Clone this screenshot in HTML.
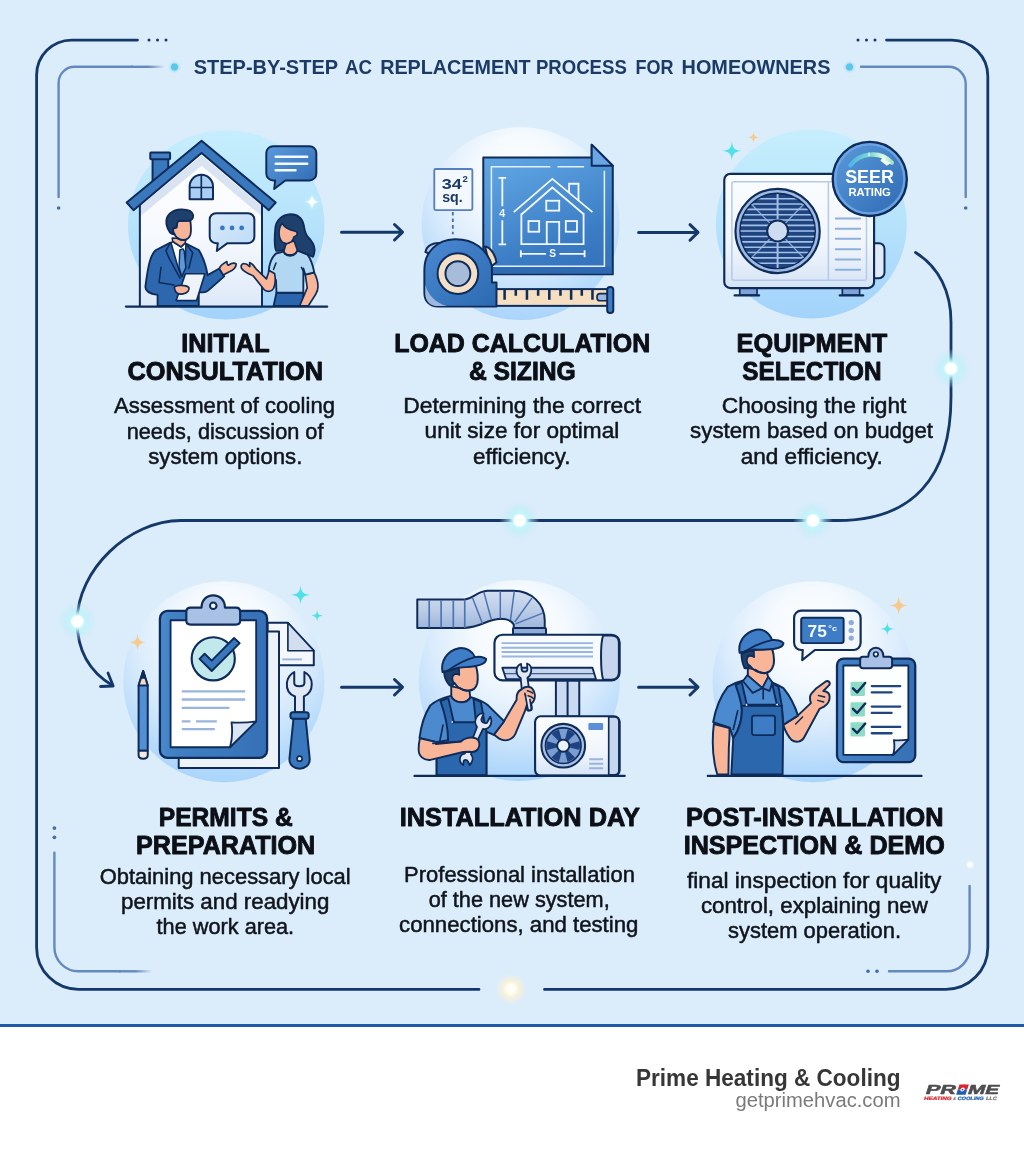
<!DOCTYPE html>
<html lang="en">
<head>
<meta charset="utf-8">
<title>Step-by-Step AC Replacement Process for Homeowners</title>
<style>
html,body{margin:0;padding:0;background:#ffffff;}
body{width:1024px;height:1154px;overflow:hidden;font-family:"Liberation Sans",Arial,sans-serif;}
svg{display:block;position:absolute;left:0;top:0;}
.h{font-family:"Liberation Sans",Arial,sans-serif;font-weight:700;font-size:26px;fill:#0c0f16;stroke:#0c0f16;stroke-width:0.9px;stroke-linejoin:round;}
.b{font-family:"Liberation Sans",Arial,sans-serif;font-weight:400;font-size:22px;fill:#10141c;stroke:#10141c;stroke-width:0.5px;stroke-linejoin:round;}
.t{font-family:"Liberation Sans",Arial,sans-serif;font-weight:700;font-size:21px;fill:#1b3a66;}
.nv{stroke:#15386a;fill:none;stroke-width:2.8;stroke-linecap:round;stroke-linejoin:round;}
.o{stroke:#14366b;stroke-width:1.8;stroke-linejoin:round;stroke-linecap:round;}
</style>
</head>
<body>
<svg style="will-change:transform" width="1024" height="1154" viewBox="0 0 1024 1154">
<defs>
<radialGradient id="glow" cx="50%" cy="50%" r="50%">
<stop offset="0" stop-color="#ffffff" stop-opacity="1"/>
<stop offset="0.26" stop-color="#ffffff" stop-opacity="1"/>
<stop offset="0.36" stop-color="#c4f6fc" stop-opacity="0.95"/>
<stop offset="0.6" stop-color="#b8f0fa" stop-opacity="0.5"/>
<stop offset="1" stop-color="#c4eefa" stop-opacity="0"/>
</radialGradient>
<radialGradient id="glowW" cx="50%" cy="50%" r="50%">
<stop offset="0" stop-color="#ffffff" stop-opacity="1"/>
<stop offset="0.3" stop-color="#fffdf0" stop-opacity="1"/>
<stop offset="0.5" stop-color="#fdf3d0" stop-opacity="0.8"/>
<stop offset="1" stop-color="#f6f1e0" stop-opacity="0"/>
</radialGradient>
<radialGradient id="glowP" cx="50%" cy="50%" r="50%"><stop offset="0" stop-color="#ffffff"/><stop offset="0.4" stop-color="#ffffff" stop-opacity="0.95"/><stop offset="1" stop-color="#ffffff" stop-opacity="0"/></radialGradient>
<radialGradient id="glowC" cx="50%" cy="50%" r="50%">
<stop offset="0" stop-color="#5cc6ec" stop-opacity="1"/>
<stop offset="0.45" stop-color="#5cc6ec" stop-opacity="1"/>
<stop offset="0.6" stop-color="#a5e0f5" stop-opacity="0.6"/>
<stop offset="1" stop-color="#c5ecfa" stop-opacity="0"/>
</radialGradient>
<linearGradient id="fadeR" x1="0" x2="1" y1="0" y2="0">
<stop offset="0" stop-color="#6389bd"/><stop offset="0.5" stop-color="#6389bd"/><stop offset="1" stop-color="#6389bd" stop-opacity="0"/>
</linearGradient>
<linearGradient id="circA" x1="0" x2="0" y1="0" y2="1">
<stop offset="0" stop-color="#c6eefd"/><stop offset="0.5" stop-color="#b6e2fb"/><stop offset="1" stop-color="#a3d3fb"/>
</linearGradient>
<radialGradient id="circB" cx="0.5" cy="0.3" r="0.74" fx="0.5" fy="0.25">
<stop offset="0" stop-color="#ffffff"/><stop offset="0.3" stop-color="#f5fafe"/><stop offset="0.6" stop-color="#d9ebfc"/><stop offset="0.85" stop-color="#b5dafb"/><stop offset="1" stop-color="#a4d2fb"/>
</radialGradient>
<linearGradient id="blueG" x1="0" x2="1" y1="0" y2="1">
<stop offset="0" stop-color="#5a9bdc"/><stop offset="1" stop-color="#2f69b2"/>
</linearGradient>
</defs>
<rect x="0" y="0" width="1024" height="1154" fill="#ffffff"/>
<rect x="0" y="0" width="1024" height="1025" fill="#dbecfa"/>
<rect x="0" y="1024" width="1024" height="3" fill="#2259a6"/>
<!-- frame -->
<g id="frame">
<path class="nv" d="M137.5,40.1 H71.6 A35,35 0 0 0 36.6,75.1 V947.4 A42,42 0 0 0 78.6,989.4 H479"/>
<path class="nv" d="M886.5,40.1 H951.8 A36,36 0 0 1 987.8,76.1 V947.4 A42,42 0 0 1 945.8,989.4 H544.5"/>
<g fill="#15386a"><circle cx="149" cy="40" r="1.5"/><circle cx="157.5" cy="40" r="1.5"/><circle cx="166" cy="40" r="1.5"/>
<circle cx="858" cy="40" r="1.5"/><circle cx="866.5" cy="40" r="1.5"/><circle cx="875" cy="40" r="1.5"/></g>
<g fill="none" stroke="#6389bd" stroke-width="2.4" stroke-linecap="round">
<path d="M58.6,197 V82.8 A16,16 0 0 1 74.6,66.8 H132"/>
<path d="M861,66.8 H948.7 A17,17 0 0 1 965.7,83.8 V197"/>
<path d="M54.4,852.6 V947.3 A24,24 0 0 0 78.4,971.3 H120"/>
<path d="M969.6,886 V948.3 A23,23 0 0 1 946.6,971.3 H889"/>
</g>
<rect x="131" y="65.6" width="34" height="2.4" fill="url(#fadeR)"/>
<rect x="119" y="970.1" width="33" height="2.4" fill="url(#fadeR)"/>
<g fill="#4470a8"><circle cx="58.6" cy="208" r="1.8"/><circle cx="965.7" cy="208" r="1.8"/>
<circle cx="54.4" cy="828.1" r="1.9"/><circle cx="54.4" cy="837.3" r="1.9"/>
<circle cx="868" cy="971.3" r="1.8"/><circle cx="877" cy="971.3" r="1.8"/></g>
<circle cx="174.5" cy="67" r="7" fill="url(#glowC)"/>
<circle cx="849.5" cy="67" r="7" fill="url(#glowC)"/>
<circle cx="970" cy="864.6" r="4.5" fill="url(#glowP)"/>
<!-- connector -->
<path class="nv" d="M915.5,252.5 C939,267 951,292 951,322 V397 C951,478 912,520.5 838,520.5 H181 C129,520.5 77.2,570 77.2,621 C77,650 90,672 112.5,685.5"/>
<path class="nv" d="M108,673 L113.2,686 L100.5,686.5"/>
<!-- arrows -->
<g class="nv" style="stroke-width:3">
<path d="M341.5,232.2 H402 M394.5,224.5 L402.5,232.2 L394.5,240"/>
<path d="M638.6,232.4 H697.5 M690,224.7 L698,232.4 L690,240.2"/>
<path d="M341.5,687.2 H402 M394.5,679.5 L402.5,687.2 L394.5,695"/>
<path d="M638.6,687.2 H697.5 M690,679.5 L698,687.2 L690,695"/>
</g>
<circle cx="951" cy="368.5" r="20" fill="url(#glow)"/>
<circle cx="813" cy="520.5" r="20" fill="url(#glow)"/>
<circle cx="519.6" cy="520.5" r="20" fill="url(#glow)"/>
<circle cx="77.3" cy="621.4" r="20" fill="url(#glow)"/>
<circle cx="511" cy="989" r="16" fill="url(#glowW)"/>
</g>
<!-- illustration 1: initial consultation -->
<g id="ill1" transform="translate(100,120) scale(0.25391)">
<defs><linearGradient id="bubG" x1="0" x2="1" y1="0" y2="1"><stop offset="0" stop-color="#d8eafb"/><stop offset="1" stop-color="#bcdaf7"/></linearGradient><linearGradient id="houseG" x1="0" x2="0" y1="0" y2="1"><stop offset="0" stop-color="#ffffff"/><stop offset="0.55" stop-color="#f6f9fe"/><stop offset="1" stop-color="#dde9f8"/></linearGradient></defs>
<ellipse cx="497" cy="413" rx="387" ry="373" fill="url(#circA)"/>
<!-- chimney -->
<rect x="207" y="150" width="62" height="95" fill="#3a78be" stroke="#0e2b59" stroke-width="7.8"/>
<rect x="198" y="128" width="78" height="27" rx="3" fill="#4480c6" stroke="#0e2b59" stroke-width="7.8"/>
<!-- house body -->
<path d="M157,735 V320 L400,125 L638,320 V735 Z" fill="url(#houseG)"/>
<path d="M157,340 L400,140 L638,340 V380 L400,180 L157,380 Z" fill="#cfdcef" opacity="0.8"/>
<path d="M157,735 V330 M638,735 V330" fill="none" stroke="#0e2b59" stroke-width="7.8"/>
<!-- roof -->
<path d="M400,82 L692,325 L665,355 L400,130 L132,355 L105,325 Z" fill="#3a78be" stroke="#0e2b59" stroke-width="7.8" stroke-linejoin="round"/>
<!-- window -->
<path d="M353,312 V262 A46,46 0 0 1 445,262 V312 Z" fill="#a9cff5" stroke="#0e2b59" stroke-width="7.8" stroke-linejoin="round"/>
<path d="M399,218 V312 M353,266 H445" stroke="#0e2b59" stroke-width="6.5" fill="none"/>
<!-- ground -->
<!-- outline bubble -->
<path d="M457,367 H583 A25,25 0 0 1 608,392 V460 A25,25 0 0 1 583,485 H502 L460,516 L464,485 H457 A25,25 0 0 1 432,460 V392 A25,25 0 0 1 457,367 Z" fill="url(#bubG)" stroke="#0e2b59" stroke-width="7.8" stroke-linejoin="round"/>
<circle cx="482" cy="425" r="9.5" fill="#3a78be"/><circle cx="520" cy="425" r="9.5" fill="#3a78be"/><circle cx="558" cy="425" r="9.5" fill="#3a78be"/>
<!-- filled bubble -->
<path d="M682,103 H825 A27,27 0 0 1 852,130 V211 A27,27 0 0 1 825,238 H730 L686,272 L690,238 H682 A27,27 0 0 1 655,211 V130 A27,27 0 0 1 682,103 Z" fill="url(#blueG)" stroke="#0e2b59" stroke-width="7.8" stroke-linejoin="round"/>
<path d="M692,145 H816 M692,172 H816 M692,198 H770" stroke="#f4f9ff" stroke-width="9.8" stroke-linecap="round" fill="none"/>
<!-- sparkle -->
<circle cx="835" cy="322" r="42" fill="url(#glow)" opacity="0.55"/>
<path d="M835,292 C838,314 843,319 866,322 C843,325 838,330 835,353 C832,330 827,325 805,322 C827,319 832,314 835,292 Z" fill="#ffffff"/>
<!-- man -->
<g transform="scale(3.938) translate(-100,-120) translate(140,200) scale(0.097656)" stroke="#0e2b59" stroke-width="19" stroke-linejoin="round" stroke-linecap="round">
<!-- jacket -->
<path d="M312,437 L160,515 C110,560 85,650 55,890 C55,935 100,960 180,972 V1085 H602 V940 C640,950 675,948 700,925 L862,782 L812,702 L692,770 C680,690 655,600 602,512 L470,447 L425,560 Z" fill="#2d68af"/>
<!-- shirt -->
<path d="M318,440 L335,425 L420,480 L462,440 L470,455 L462,690 L425,780 L390,690 Z" fill="#ffffff" stroke-width="16"/>
<!-- tie -->
<path d="M408,512 L440,500 L452,520 L470,690 L428,785 L400,690 Z" fill="#5b98da" stroke-width="15"/>
<!-- lapels -->
<path d="M312,437 L265,520 L300,600 L410,800 M470,447 L540,540 L500,700 M215,690 L195,845 L350,870" fill="none" stroke-width="16"/>
<!-- neck -->
<path d="M330,390 L335,425 L420,480 L462,440 L470,400 Z" fill="#f9b598" stroke-width="16"/>
<!-- paper -->
<path d="M465,755 H665 L580,1030 H370 Z" fill="#eef3fa" stroke-width="17"/>
<!-- left hand -->
<path d="M352,890 C380,868 470,870 500,895 C510,920 490,955 440,962 C400,968 355,960 352,890 Z" fill="#f9b598" stroke-width="17"/>
<!-- right hand -->
<path d="M812,702 C825,670 860,645 890,630 C890,650 895,665 905,668 C930,650 965,640 985,655 C985,690 950,720 910,738 C890,748 870,760 852,768 Z" fill="#f9b598" stroke-width="17"/>
<!-- head -->
<path d="M380,215 L515,210 C522,260 525,310 518,350 C510,385 480,408 440,410 C400,405 365,380 350,345 C335,335 325,310 340,290 L375,280 Z" fill="#f9b598"/>
<path d="M385,392 C410,412 450,415 478,405" fill="none" stroke-width="16"/>
<path d="M270,210 C275,150 330,100 420,96 C480,95 535,110 545,155 C545,185 530,205 505,210 L390,215 C380,240 375,265 372,282 L342,290 C335,315 340,335 352,352 C330,350 310,340 300,320 C280,290 268,250 270,210 Z" fill="#1d406c"/>
</g>
<!-- woman -->
<g transform="scale(3.938) translate(-100,-120) translate(235,200) scale(0.097656)" stroke="#0e2b59" stroke-width="19" stroke-linejoin="round" stroke-linecap="round">
<!-- hair -->
<path d="M412,300 C415,210 480,150 570,146 C640,148 690,190 705,260 C712,300 715,335 740,370 C790,420 820,470 815,520 C812,550 805,570 798,582 C760,565 700,540 640,515 L520,500 C490,515 450,525 422,520 C400,470 405,380 412,300 Z" fill="#1d406c"/>
<!-- neck -->
<path d="M525,440 L500,528 C520,570 600,580 640,518 L605,420 Z" fill="#f9b598" stroke-width="16"/>
<!-- face -->
<path d="M482,240 C500,270 540,305 618,320 C640,325 645,355 622,368 L603,378 C595,420 560,445 520,448 C480,440 455,400 452,350 C450,300 460,265 482,240 Z" fill="#f9b598" stroke-width="16"/>
<path d="M505,440 C525,452 545,448 558,435" fill="none" stroke-width="15"/>
<!-- skirt -->
<path d="M425,950 H700 L690,1085 H395 Z" fill="#2b66ad"/>
<!-- right arm -->
<path d="M720,765 L812,745 C835,790 850,840 850,885 C850,920 840,945 825,968 L750,1085 H662 L740,900 Z" fill="#f9b598" stroke-width="17"/>
<!-- shirt -->
<path d="M497,528 C520,585 610,590 640,518 L742,560 C775,600 800,680 812,742 L720,765 L700,700 L700,950 H425 L420,820 L345,730 C350,670 370,590 420,548 Z" fill="#b2d7f3"/>
<path d="M680,690 L720,765 M420,645 L395,710" fill="none" stroke-width="16"/>
<!-- left arm -->
<path d="M350,722 L405,752 C415,800 415,860 395,905 C375,940 335,945 300,920 L185,775 C150,760 100,745 70,705 C55,680 65,655 90,650 C110,650 135,665 152,682 L150,640 C175,650 200,680 215,705 L322,808 Z" fill="#f9b598" stroke-width="17"/>
</g>
<path d="M102,735 H895" stroke="#0e2b59" stroke-width="8.5" stroke-linecap="round" fill="none"/>
</g>
<!-- illustration 2: load calculation -->
<g id="ill2" transform="translate(400,120) scale(0.25391)">
<defs><linearGradient id="bpG" x1="0.2" x2="0.6" y1="0" y2="1"><stop offset="0" stop-color="#63a7e3"/><stop offset="0.25" stop-color="#579cdc"/><stop offset="0.8" stop-color="#3a7cc4"/><stop offset="1" stop-color="#3674be"/></linearGradient><linearGradient id="tapeG" x1="0" x2="1" y1="0" y2="1"><stop offset="0" stop-color="#4a8ad2"/><stop offset="1" stop-color="#2c69b0"/></linearGradient></defs>
<ellipse cx="475" cy="408" rx="390" ry="380" fill="url(#circB)"/>
<!-- blueprint -->
<path d="M328,148 H755 V97 L838,180 V608 H328 Z" fill="url(#bpG)" stroke="#0e2b59" stroke-width="7.8" stroke-linejoin="round"/>
<path d="M331,578 H836 V606 H331 Z" fill="#2c66ae" opacity="0.75"/>
<path d="M755,97 L838,180 H755 Z" fill="#6aa5e6" stroke="#0e2b59" stroke-width="7.8" stroke-linejoin="round"/>
<path d="M592,184 H360 V576 H805 V200 M620,184 H725" fill="none" stroke="#e6f0fc" stroke-width="5.9"/>
<g fill="none" stroke="#f2f7fe" stroke-width="7.2" stroke-linejoin="miter">
<path d="M448,363 L600,232 L758,363"/>
<path d="M478,372 L600,266 L725,372"/>
<path d="M478,368 V489 H723 V368"/>
<path d="M666,285 V251 H703 V318"/>
<rect x="576" y="318" width="51" height="39"/>
<rect x="506" y="398" width="42" height="42"/>
<rect x="653" y="398" width="44" height="42"/>
<path d="M578,489 V401 H627 V489"/>
<path d="M403,228 V340 M403,395 V490 M388,228 H418 M388,490 H418"/>
<path d="M476,527 H575 M628,527 H727 M476,513 V541 M727,513 V541"/>
</g>
<text x="403" y="382" text-anchor="middle" style="font-family:'Liberation Sans',Arial,sans-serif;font-weight:700;font-size:42px;fill:#f2f7fe;">4</text>
<text x="601" y="541" text-anchor="middle" style="font-family:'Liberation Sans',Arial,sans-serif;font-weight:700;font-size:40px;fill:#f2f7fe;">S</text>
<!-- label -->
<rect x="135" y="193" width="150" height="162" rx="6" fill="#f3f8fe" stroke="#557fbe" stroke-width="7.2"/>
<text x="164" y="272" textLength="79" lengthAdjust="spacingAndGlyphs" style="font-family:'Liberation Sans',Arial,sans-serif;font-weight:700;font-size:61px;fill:#1b3a66;">34</text>
<text x="246" y="243" textLength="21" lengthAdjust="spacingAndGlyphs" style="font-family:'Liberation Sans',Arial,sans-serif;font-weight:700;font-size:36px;fill:#1b3a66;">2</text>
<text x="166" y="323" textLength="81" lengthAdjust="spacingAndGlyphs" style="font-family:'Liberation Sans',Arial,sans-serif;font-weight:700;font-size:54px;fill:#1b3a66;">sq.</text>
<path d="M208,362 V450" stroke="#456fae" stroke-width="7.2" stroke-dasharray="14 12" fill="none"/>
<!-- tape -->
<rect x="378" y="666" width="445" height="66" fill="#f5dfc0" stroke="#0e2b59" stroke-width="7.8"/>
<path d="M412,668 V708 M456,668 V692 M500,668 V708 M544,668 V692 M588,668 V708 M632,668 V692 M674,668 V708 M716,668 V692 M758,668 V708" stroke="#0e2b59" stroke-width="10" fill="none"/>
<rect x="776" y="684" width="45" height="28" rx="12" fill="#9db7df" stroke="#0e2b59" stroke-width="6.5"/>
<rect x="816" y="658" width="24" height="102" rx="11" fill="#3f7cc6" stroke="#0e2b59" stroke-width="7.8"/>
<!-- tape body -->
<path d="M335,498 C355,500 375,530 380,560 L355,580 Z" fill="#f3dcbc" stroke="#0e2b59" stroke-width="7.8" stroke-linejoin="round"/>
<path d="M100,520 C105,495 130,482 160,485 L150,540 Z" fill="#b9cce8" stroke="#0e2b59" stroke-width="7.8" stroke-linejoin="round"/>
<path d="M215,470 C290,468 345,510 362,575 V640 H380 V735 H150 C115,735 96,712 96,680 V590 C96,520 145,472 215,470 Z" fill="url(#tapeG)" stroke="#0e2b59" stroke-width="7.8" stroke-linejoin="round"/>
<path d="M100,650 C110,690 140,720 185,733 H150 C118,733 100,712 100,685 Z" fill="#9db7df"/>
<circle cx="228" cy="605" r="80" fill="#f3e0c6" stroke="#0e2b59" stroke-width="7.8"/>
<circle cx="228" cy="605" r="49" fill="#a6bcd9" stroke="#0e2b59" stroke-width="7.8"/>
</g>
<!-- illustration 3: equipment selection -->
<g id="ill3" transform="translate(690,120) scale(0.25391)">
<defs>
<linearGradient id="acBody" x1="0" x2="0" y1="0" y2="1"><stop offset="0" stop-color="#fbfdff"/><stop offset="0.6" stop-color="#f1f6fc"/><stop offset="1" stop-color="#d6e4f6"/></linearGradient>
<linearGradient id="gauge" x1="0" x2="1" y1="0" y2="0"><stop offset="0" stop-color="#4fb6e6"/><stop offset="0.5" stop-color="#7fdcc9"/><stop offset="0.8" stop-color="#e8fbe9"/><stop offset="1" stop-color="#9fe3c0"/></linearGradient>
<clipPath id="fanclip"><circle cx="345" cy="437" r="146"/></clipPath>
</defs>
<ellipse cx="478" cy="410" rx="376" ry="372" fill="url(#circA)"/>
<!-- feet -->
<rect x="196" y="660" width="68" height="30" fill="#7fa3d8" stroke="#0e2b59" stroke-width="6.5"/>
<path d="M176,691 H272" stroke="#0e2b59" stroke-width="9.1" stroke-linecap="round"/>
<rect x="600" y="660" width="68" height="30" fill="#7fa3d8" stroke="#0e2b59" stroke-width="6.5"/>
<path d="M590,691 H682" stroke="#0e2b59" stroke-width="9.1" stroke-linecap="round"/>
<!-- side bump -->
<rect x="700" y="485" width="66" height="138" rx="22" fill="#e1ebf7" stroke="#0e2b59" stroke-width="7.8"/>
<!-- body -->
<rect x="135" y="212" width="590" height="450" rx="24" fill="url(#acBody)" stroke="#0e2b59" stroke-width="8.5"/>
<rect x="165" y="243" width="530" height="388" rx="8" fill="none" stroke="#b4cae8" stroke-width="5.9"/>
<path d="M545,245 V630" stroke="#b4cae8" stroke-width="5.9"/>
<g stroke="#8fb0dc" stroke-width="7.8" stroke-linecap="round"><path d="M574,388 H670 M574,428 H670 M574,468 H670 M574,509 H670 M574,549 H670 M574,590 H670"/></g>
<!-- fan -->
<circle cx="345" cy="437" r="166" fill="#9dbae3" stroke="#0e2b59" stroke-width="8.5"/>
<circle cx="345" cy="437" r="148" fill="#1f4581" stroke="#0e2b59" stroke-width="6.5"/>
<g clip-path="url(#fanclip)" stroke="#a4c0e6" stroke-width="6.5" fill="none">
<path d="M180,310 H510 M180,331 H510 M180,352 H510 M180,373 H510 M180,394 H510 M180,415 H510 M180,437 H510 M180,459 H510 M180,480 H510 M180,501 H510 M180,522 H510 M180,543 H510 M180,564 H510"/>
<path d="M345,280 V595" stroke-width="7.8"/>
<path d="M240,330 L450,545 M450,330 L240,545" stroke-width="5.2" opacity="0.8"/>
</g>
<circle cx="345" cy="437" r="41" fill="#cddcf1" stroke="#0e2b59" stroke-width="7.8"/>
<!-- badge -->
<circle cx="708" cy="232" r="146" fill="url(#blueG)" stroke="#0e2b59" stroke-width="9.1"/>
<circle cx="708" cy="232" r="136" fill="none" stroke="#72a9e8" stroke-width="9" opacity="0.85"/>
<path d="M632,178 C670,128 750,120 795,168" fill="none" stroke="url(#gauge)" stroke-width="16.9" stroke-linecap="round"/>
<path d="M758,148 L790,170 L775,180 L750,160 Z" fill="#f1fbf3"/>
<path d="M705,128 V142" stroke="#e9f8fb" stroke-width="5.2"/>
<text x="611" y="248" textLength="192" lengthAdjust="spacingAndGlyphs" style="font-family:'Liberation Sans',Arial,sans-serif;font-weight:700;font-size:74px;fill:#ffffff;">SEER</text>
<text x="624" y="298" textLength="167" lengthAdjust="spacingAndGlyphs" style="font-family:'Liberation Sans',Arial,sans-serif;font-weight:700;font-size:43px;fill:#ffffff;">RATING</text>
<!-- sparkles -->
<path d="M165,85 C168,112 175,119 202,122 C175,125 168,132 165,159 C162,132 155,125 128,122 C155,119 162,112 165,85 Z" fill="#4fe0ea"/>
<path d="M250,45 C252,62 256,66 273,68 C256,70 252,74 250,91 C248,74 244,70 227,68 C244,66 248,62 250,45 Z" fill="#f7c98b"/>
</g>
<!-- illustration 4: permits & preparation -->
<g id="ill4" transform="translate(100,570) scale(0.25391)">
<defs>
<linearGradient id="clipb" x1="0" x2="1" y1="0" y2="0"><stop offset="0" stop-color="#4d8bcf"/><stop offset="0.12" stop-color="#4080c3"/><stop offset="1" stop-color="#3670b6"/></linearGradient>
</defs>
<circle cx="488" cy="440" r="396" fill="url(#circB)"/>
<!-- back papers -->
<path d="M660,208 H740 L842,318 V375 H705 V245 H660 Z" fill="#f4f8fd" stroke="#0e2b59" stroke-width="7.8" stroke-linejoin="round"/>
<path d="M740,208 L842,318 H740 Z" fill="#d3dfef" stroke="#0e2b59" stroke-width="6.5" stroke-linejoin="round"/>
<path d="M718,352 H795" stroke="#9ab5dc" stroke-width="7.8"/>
<path d="M310,700 V780 H705 V242 H650" fill="#eef3fa" stroke="#0e2b59" stroke-width="7.8" stroke-linejoin="round"/>
<!-- clipboard -->
<rect x="236" y="161" width="422" height="579" rx="30" fill="url(#clipb)" stroke="#0e2b59" stroke-width="9.1"/>
<path d="M278,198 H615 V596 L512,698 H278 Z" fill="#ffffff" stroke="#0e2b59" stroke-width="7.2" stroke-linejoin="round"/>
<path d="M512,698 C520,670 522,630 518,600 C550,602 590,600 615,596 Z" fill="#dbe5f3" stroke="#0e2b59" stroke-width="7.2" stroke-linejoin="round"/>
<!-- clip -->
<path d="M400,148 C400,118 420,100 446,100 C472,100 492,118 492,148 H535 C546,148 552,154 552,165 V200 C552,210 546,215 535,215 H357 C346,215 340,210 340,200 V165 C340,154 346,148 357,148 Z" fill="#a9c1e4" stroke="#0e2b59" stroke-width="8.5" stroke-linejoin="round"/>
<circle cx="446" cy="141" r="13" fill="#f4f8fd" stroke="#0e2b59" stroke-width="7.8"/>
<!-- check -->
<circle cx="446" cy="350" r="85" fill="#c1e9ec" stroke="#0e2b59" stroke-width="8.5"/>
<path d="M392,350 L412,330 L440,357 L528,268 L550,288 L440,398 Z" fill="#3a78be" stroke="#0e2b59" stroke-width="7.8" stroke-linejoin="round"/>
<g stroke="#9ab5dc" stroke-width="9.1" fill="none"><path d="M322,478 H572 M322,510 H572 M322,543 H510 M322,596 H356 M378,596 H460 M322,627 H452"/></g>
<!-- pencil -->
<path d="M152,455 L170,398 L188,455 V712 H152 Z" fill="#5290d3" stroke="#0e2b59" stroke-width="7.8" stroke-linejoin="round"/>
<path d="M152,455 L170,398 L188,455 Z" fill="#f6d9c8" stroke="#0e2b59" stroke-width="7.8" stroke-linejoin="round"/>
<path d="M162,425 L170,398 L178,425 Z" fill="#0e2b59" stroke="#0e2b59" stroke-width="6.5" stroke-linejoin="round"/>
<path d="M152,712 H188 V730 C188,748 152,748 152,730 Z" fill="#f8e9e3" stroke="#0e2b59" stroke-width="7.8" stroke-linejoin="round"/>
<!-- wrench -->
<path d="M768,560 V498 C745,490 734,470 736,445 C738,425 750,410 765,402 V445 C765,462 805,462 805,445 V402 C822,410 834,428 834,450 C834,472 822,490 803,498 V560 Z" fill="#e1e9f5" stroke="#0e2b59" stroke-width="7.8" stroke-linejoin="round"/>
<path d="M762,585 H810 L826,745 C826,795 746,795 746,745 Z" fill="#3a78be" stroke="#0e2b59" stroke-width="7.8" stroke-linejoin="round"/>
<rect x="750" y="560" width="72" height="26" rx="10" fill="#3a78be" stroke="#0e2b59" stroke-width="7.8"/>
<circle cx="786" cy="743" r="10" fill="#f4f8fd" stroke="#0e2b59" stroke-width="6.5"/>
<!-- sparkles -->
<path d="M790,60 C793,88 800,95 828,98 C800,101 793,108 790,136 C787,108 780,101 752,98 C780,95 787,88 790,60 Z" fill="#4fe0ea"/>
<path d="M855,158 C857,174 861,178 877,180 C861,182 857,186 855,202 C853,186 849,182 833,180 C849,178 853,174 855,158 Z" fill="#4fe0ea"/>
<path d="M148,252 C151,276 157,282 181,285 C157,288 151,294 148,318 C145,294 139,288 115,285 C139,282 145,276 148,252 Z" fill="#f7c98b"/>
</g>
<!-- illustration 5: installation day -->
<g id="ill5" transform="translate(400,570) scale(0.25391)">
<defs>
<linearGradient id="duct" x1="0" x2="0" y1="0" y2="1"><stop offset="0" stop-color="#d3dff0"/><stop offset="0.5" stop-color="#bccde7"/><stop offset="1" stop-color="#9db5da"/></linearGradient>
</defs>
<circle cx="470" cy="435" r="396" fill="url(#circB)"/>
<!-- duct -->
<path d="M68,116 H255 C290,112 300,85 345,82 H445 C520,82 570,135 570,200 V232 H448 V215 C440,200 420,192 395,192 C340,195 320,225 255,228 H68 Z" fill="url(#duct)" stroke="#0e2b59" stroke-width="7.8" stroke-linejoin="round"/>
<g stroke="#4c74b4" stroke-width="6.5" fill="none"><path d="M115,118 V226 M162,118 V226 M210,118 V226 M255,116 V228"/><path d="M285,108 L325,212 M330,86 L360,196 M395,83 V192 M450,84 L435,198 M520,110 L452,205 M562,170 L455,212" stroke-width="5.9"/></g>
<rect x="445" y="228" width="130" height="26" rx="4" fill="#8fabda" stroke="#0e2b59" stroke-width="7.8"/>
<!-- pipes -->
<rect x="614" y="435" width="92" height="142" fill="#c9daf2" stroke="#0e2b59" stroke-width="7.8"/>
<path d="M660,435 V577" stroke="#0e2b59" stroke-width="7.8"/>
<!-- indoor unit -->
<rect x="372" y="255" width="493" height="180" rx="32" fill="#f7fafe" stroke="#0e2b59" stroke-width="8.5"/>
<path d="M800,258 H833 C852,258 862,270 862,287 V403 C862,420 852,432 833,432 H800 C790,400 788,290 800,258 Z" fill="#c5d6ee" stroke="#0e2b59" stroke-width="7.8" stroke-linejoin="round"/>
<g stroke="#9ab5dc" stroke-width="7.8" fill="none"><path d="M400,288 H760 M400,306 H760 M400,323 H760 M400,341 H760"/></g>
<path d="M403,385 H758 L772,430 H418 Z" fill="#c5d6ee" stroke="#0e2b59" stroke-width="7.2" stroke-linejoin="round"/>
<path d="M412,408 H765" stroke="#0e2b59" stroke-width="5.2" opacity="0.7"/>
<!-- outdoor unit -->
<rect x="532" y="576" width="333" height="234" rx="22" fill="url(#acBody)" stroke="#0e2b59" stroke-width="8.5"/>
<path d="M822,579 H845 C856,579 862,586 862,597 V790 C862,800 856,807 845,807 H822 Z" fill="#c5d6ee" stroke="#0e2b59" stroke-width="6.5" stroke-linejoin="round"/>
<circle cx="643" cy="692" r="86" fill="#a9c2e8" stroke="#0e2b59" stroke-width="8"/>
<circle cx="643" cy="692" r="70" fill="#7a9dd2" stroke="#0e2b59" stroke-width="6.5"/>
<g fill="#1f4380"><path d="M668.1,685.3 L706.8,674.9 A66,66 0 0 1 706.8,709.1 L668.1,698.7 Z"/><path d="M661.4,710.4 L689.7,738.7 A66,66 0 0 1 660.1,755.8 L649.7,717.1 Z"/><path d="M636.3,717.1 L625.9,755.8 A66,66 0 0 1 596.3,738.7 L624.6,710.4 Z"/><path d="M617.9,698.7 L579.2,709.1 A66,66 0 0 1 579.2,674.9 L617.9,685.3 Z"/><path d="M624.6,673.6 L596.3,645.3 A66,66 0 0 1 625.9,628.2 L636.3,666.9 Z"/><path d="M649.7,666.9 L660.1,628.2 A66,66 0 0 1 689.7,645.3 L661.4,673.6 Z"/></g>
<circle cx="643" cy="692" r="24" fill="#eef4fc" stroke="#0e2b59" stroke-width="7.5"/>
<rect x="742" y="603" width="58" height="27" rx="4" fill="#5b8fd8"/>
<g stroke="#9ab5dc" stroke-width="7.8" fill="none"><path d="M745,745 H800 M745,763 H800 M745,781 H800"/></g>
<!-- worker -->
<g transform="scale(3.938) translate(-400,-570) translate(410,640) scale(0.12695)" stroke="#0e2b59" stroke-width="15.5" stroke-linejoin="round" stroke-linecap="round">
<!-- upper wrench -->
<path d="M880,385 L872,300 C845,285 835,255 842,225 C848,205 860,192 875,188 L880,235 C885,255 920,255 925,235 L922,185 C945,192 958,215 955,245 C952,270 940,288 925,298 L960,530 C965,560 925,568 918,540 Z" fill="#e3eaf5" stroke-width="14"/>
<!-- raised arm -->
<path d="M660,745 L740,640 L840,470 C838,430 850,400 880,388 C900,365 950,360 965,385 C985,410 990,450 975,480 C965,500 945,505 925,500 L905,560 L830,740 C805,790 750,805 700,775 Z" fill="#f9b598" stroke-width="15"/>
<path d="M925,400 C945,405 960,412 968,420 M930,440 C950,445 965,452 972,460 M905,420 L925,500" fill="none" stroke-width="12"/>
<path d="M908,430 L928,540 C932,560 958,556 955,535 L945,470" fill="#e3eaf5" stroke-width="13"/>
<!-- neck -->
<path d="M325,365 V445 C350,500 440,510 475,455 L468,395 Z" fill="#f9b598" stroke-width="15"/>
<!-- shirt -->
<path d="M75,772 C85,690 105,600 160,515 C200,480 260,455 322,440 C350,500 440,510 478,450 C530,465 580,485 615,515 C660,560 700,600 742,640 L660,748 L602,722 V1065 H210 V805 Z" fill="#4b8acf"/>
<!-- overalls -->
<path d="M240,482 L302,458 L345,648 H520 L500,462 L558,488 L585,640 L602,722 V1065 H210 V805 L300,790 C300,690 275,580 240,482 Z" fill="#2b67ac" stroke-width="15"/>
<path d="M345,648 L330,648" fill="none"/>
<circle cx="332" cy="646" r="7" fill="#dfeafa" stroke="none"/>
<path d="M260,670 L235,795" fill="none" stroke-width="13"/>
<!-- lower wrench -->
<path d="M500,760 L528,685 C510,660 510,625 530,600 C545,582 565,575 580,580 L562,625 C560,645 590,665 608,650 L632,605 C645,625 645,660 625,685 C610,700 590,705 575,700 L480,900 C500,925 495,960 470,985 L455,955 C448,940 425,940 422,955 L420,985 C395,975 385,940 400,915 C408,900 420,895 432,895 Z" fill="#e3eaf5" stroke-width="14"/>
<!-- left arm -->
<path d="M78,775 L210,805 L205,820 L400,800 C430,770 480,760 520,775 C550,790 555,830 535,860 C520,880 495,885 470,880 L420,882 L160,945 C105,950 68,915 68,860 C68,830 72,800 78,775 Z" fill="#f9b598" stroke-width="15"/>
<path d="M180,815 L400,800" fill="none" stroke-width="13"/>
<!-- head -->
<path d="M385,215 L520,205 C532,250 538,300 530,340 C520,380 490,400 455,400 C410,395 370,370 352,340 C330,335 318,310 328,288 C335,272 350,265 365,268 Z" fill="#f9b598"/>
<path d="M392,378 C420,398 460,402 490,390" fill="none" stroke-width="14"/>
<path d="M268,255 L385,218 L388,275 C375,268 360,266 348,270 C330,285 325,315 350,342 C340,355 325,362 312,358 C285,330 272,295 268,255 Z" fill="#1d406c" stroke-width="14"/>
<!-- cap -->
<path d="M256,252 C240,170 290,85 385,65 C440,58 490,85 512,135 C545,128 585,135 600,150 C600,170 580,188 545,198 C500,212 440,215 385,218 Z" fill="#3f7dc6"/>
<path d="M300,240 C370,190 450,150 512,135" fill="none" stroke-width="14"/>
</g>
<!-- ground -->
<path d="M57,811 H885" stroke="#0e2b59" stroke-width="8.5" stroke-linecap="round"/>
</g>
<!-- illustration 6: post-installation inspection -->
<g id="ill6" transform="translate(690,570) scale(0.25391)">
<circle cx="485" cy="440" r="396" fill="url(#circB)"/>
<!-- clipboard -->
<rect x="579" y="349" width="308" height="408" rx="26" fill="url(#clipb)" stroke="#0e2b59" stroke-width="9.1"/>
<path d="M604,376 H860 V668 L800,728 H604 Z" fill="#fdfefe" stroke="#0e2b59" stroke-width="7.2" stroke-linejoin="round"/>
<path d="M800,728 C806,708 806,688 803,670 C825,672 845,670 860,668 Z" fill="#d3dfef" stroke="#0e2b59" stroke-width="7.2" stroke-linejoin="round"/>
<path d="M702,342 C702,320 715,306 732,306 C749,306 762,320 762,342 H785 C792,342 796,346 796,353 V376 C796,383 792,387 785,387 H681 C674,387 670,383 670,376 V353 C670,346 674,342 681,342 Z" fill="#a9c1e4" stroke="#0e2b59" stroke-width="7.8" stroke-linejoin="round"/>
<circle cx="732" cy="332" r="9" fill="#f4f8fd" stroke="#0e2b59" stroke-width="6.5"/>
<g fill="#8edbc6"><rect x="632" y="440" width="57" height="56" rx="5"/><rect x="632" y="521" width="57" height="56" rx="5"/><rect x="632" y="600" width="57" height="56" rx="5"/></g>
<g fill="none" stroke="#0e2b59" stroke-width="9.5" stroke-linecap="round" stroke-linejoin="round"><path d="M642,466 L658,482 L690,445 M642,547 L658,563 L690,526 M642,626 L658,642 L690,605"/></g>
<g fill="none" stroke="#1f4581" stroke-width="9.1" stroke-linecap="round"><path d="M716,457 H828 M716,482 H794 M716,538 H828 M716,563 H794 M716,618 H828 M716,643 H794"/></g>
<!-- bubble -->
<path d="M438,160 H644 A28,28 0 0 1 672,188 V287 A28,28 0 0 1 644,315 H492 L442,355 L444,315 H438 A28,28 0 0 1 410,287 V188 A28,28 0 0 1 438,160 Z" fill="#f3f8fe" stroke="#0e2b59" stroke-width="8.5" stroke-linejoin="round"/>
<rect x="438" y="188" width="167" height="100" rx="9" fill="#3f7cc6" stroke="#0e2b59" stroke-width="7.8"/>
<text x="463" y="262" textLength="76" lengthAdjust="spacingAndGlyphs" style="font-family:'Liberation Sans',Arial,sans-serif;font-weight:700;font-size:64px;fill:#f4f9ff;">75</text>
<text x="545" y="242" textLength="34" lengthAdjust="spacingAndGlyphs" style="font-family:'Liberation Sans',Arial,sans-serif;font-weight:700;font-size:30px;fill:#f4f9ff;">°c</text>
<g fill="#8fabda"><circle cx="635" cy="207" r="10.5"/><circle cx="635" cy="238" r="10.5"/><circle cx="635" cy="268" r="10.5"/></g>
<!-- worker -->
<g transform="scale(3.938) translate(-690,-570) translate(700,620) scale(0.13861)" stroke="#0e2b59" stroke-width="14.5" stroke-linejoin="round" stroke-linecap="round">
<!-- pointing arm -->
<path d="M600,757 L705,690 L800,600 C790,570 792,545 805,530 L840,492 L905,445 C925,432 945,450 932,470 L890,512 C915,515 935,530 935,552 C938,580 920,610 895,625 L862,642 L750,850 C735,880 690,888 660,865 C635,840 615,800 600,757 Z" fill="#f9b598" stroke-width="14"/>
<path d="M855,545 L900,555 M850,580 L892,592 M690,750 L740,700" fill="none" stroke-width="11"/>
<!-- left arm -->
<path d="M100,750 L212,780 C215,820 212,870 208,920 L205,1115 H125 C105,1050 92,960 92,880 C92,830 95,790 100,750 Z" fill="#f9b598" stroke-width="14"/>
<!-- neck -->
<path d="M345,345 V402 L450,492 L492,412 L482,378 Z" fill="#f9b598" stroke-width="14"/>
<!-- shirt -->
<path d="M95,737 C110,650 140,560 200,482 C235,460 275,445 312,436 L450,492 L520,450 C550,462 580,478 602,492 C650,550 685,620 707,690 L600,757 L590,620 H300 C310,700 285,790 240,852 L215,778 Z" fill="#4b8acf"/>
<path d="M272,655 L240,790" fill="none" stroke-width="12"/>
<!-- collar -->
<path d="M342,398 L310,440 L380,526 L450,492 Z" fill="#5290d3" stroke-width="13"/>
<path d="M492,410 L522,450 L502,512 L450,492 Z" fill="#5290d3" stroke-width="13"/>
<path d="M456,496 V570" fill="none" stroke-width="12"/>
<!-- overalls -->
<path d="M257,470 L300,446 L338,612 H555 L520,456 L566,480 L590,620 L600,757 L596,1115 H226 L240,852 C285,790 310,700 300,620 C290,570 275,515 257,470 Z" fill="#2b67ac" stroke-width="14"/>
<path d="M300,620 H590" fill="none" stroke-width="13"/>
<rect x="375" y="690" width="166" height="140" rx="16" fill="#3f7cc6" stroke-width="13"/>
<circle cx="336" cy="612" r="11" fill="#eef4fc" stroke-width="7"/><circle cx="557" cy="610" r="11" fill="#eef4fc" stroke-width="7"/>
<!-- head -->
<path d="M390,215 L520,205 C532,245 538,290 530,325 C520,362 495,382 465,385 C420,380 380,358 360,330 C338,325 325,302 333,280 C340,262 355,254 370,258 Z" fill="#f9b598"/>
<path d="M400,358 C425,380 462,388 492,375" fill="none" stroke-width="13"/>
<path d="M298,240 L388,216 L390,268 C378,258 362,255 350,258 C333,275 330,305 355,332 C348,345 335,352 322,348 C308,320 300,285 298,240 Z" fill="#1d406c" stroke-width="13"/>
<!-- cap -->
<path d="M286,236 C272,160 320,90 405,70 C455,62 500,90 520,145 C550,140 590,150 602,168 C600,185 580,198 548,206 C505,216 440,215 390,213 Z" fill="#3f7dc6"/>
<path d="M325,226 C390,185 460,158 520,145" fill="none" stroke-width="13"/>
</g>
<!-- ground -->
<path d="M70,811 H912" stroke="#0e2b59" stroke-width="8.5" stroke-linecap="round"/>
<!-- sparkles -->
<path d="M822,102 C825,130 832,137 860,140 C832,143 825,150 822,178 C819,150 812,143 784,140 C812,137 819,130 822,102 Z" fill="#f7c98b"/>
<path d="M777,206 C779,225 784,230 803,232 C784,234 779,239 777,258 C775,239 770,234 751,232 C770,230 775,225 777,206 Z" fill="#4fe0ea"/>
</g>
<!-- text -->
<g id="text">
<text class="t" y="74.2"><tspan x="193.7" textLength="144.0" lengthAdjust="spacingAndGlyphs">STEP-BY-STEP</tspan> <tspan x="345.0" textLength="27.0" lengthAdjust="spacingAndGlyphs">AC</tspan> <tspan x="380.2" textLength="150.3" lengthAdjust="spacingAndGlyphs">REPLACEMENT</tspan> <tspan x="535.9" textLength="90.9" lengthAdjust="spacingAndGlyphs">PROCESS</tspan> <tspan x="635.5" textLength="38.0" lengthAdjust="spacingAndGlyphs">FOR</tspan> <tspan x="681.6" textLength="148.8" lengthAdjust="spacingAndGlyphs">HOMEOWNERS</tspan></text>
<text class="h" x="181.3" y="352.0" textLength="88.3" lengthAdjust="spacingAndGlyphs">INITIAL</text>
<text class="h" x="127.4" y="380.3" textLength="195.6" lengthAdjust="spacingAndGlyphs">CONSULTATION</text>
<text class="b" x="114.0" y="412.8" textLength="221.0" lengthAdjust="spacingAndGlyphs">Assessment of cooling</text>
<text class="b" x="126.7" y="438.5" textLength="196.8" lengthAdjust="spacingAndGlyphs">needs, discussion of</text>
<text class="b" x="148.2" y="463.5" textLength="154.2" lengthAdjust="spacingAndGlyphs">system options.</text>
<text class="h" x="394.2" y="352.0" textLength="256.0" lengthAdjust="spacingAndGlyphs">LOAD CALCULATION</text>
<text class="h" x="468.9" y="380.3" textLength="106.9" lengthAdjust="spacingAndGlyphs">&amp; SIZING</text>
<text class="b" x="403.2" y="413.0" textLength="237.9" lengthAdjust="spacingAndGlyphs">Determining the correct</text>
<text class="b" x="424.6" y="438.3" textLength="194.7" lengthAdjust="spacingAndGlyphs">unit size for optimal</text>
<text class="b" x="473.0" y="463.6" textLength="97.6" lengthAdjust="spacingAndGlyphs">efficiency.</text>
<text class="h" x="736.6" y="352.0" textLength="150.7" lengthAdjust="spacingAndGlyphs">EQUIPMENT</text>
<text class="h" x="742.3" y="380.3" textLength="139.2" lengthAdjust="spacingAndGlyphs">SELECTION</text>
<text class="b" x="721.8" y="413.0" textLength="184.6" lengthAdjust="spacingAndGlyphs">Choosing the right</text>
<text class="b" x="690.1" y="438.3" textLength="242.9" lengthAdjust="spacingAndGlyphs">system based on budget</text>
<text class="b" x="740.7" y="463.6" textLength="142.2" lengthAdjust="spacingAndGlyphs">and efficiency.</text>
<text class="h" x="158.8" y="825.8" textLength="133.9" lengthAdjust="spacingAndGlyphs">PERMITS &amp;</text>
<text class="h" x="136.1" y="854.3" textLength="179.1" lengthAdjust="spacingAndGlyphs">PREPARATION</text>
<text class="b" x="99.7" y="883.5" textLength="251.0" lengthAdjust="spacingAndGlyphs">Obtaining necessary local</text>
<text class="b" x="121.0" y="909.0" textLength="208.4" lengthAdjust="spacingAndGlyphs">permits and readying</text>
<text class="b" x="156.6" y="934.1" textLength="137.5" lengthAdjust="spacingAndGlyphs">the work area.</text>
<text class="h" x="399.7" y="826.0" textLength="240.1" lengthAdjust="spacingAndGlyphs">INSTALLATION DAY</text>
<text class="b" x="404.1" y="881.6" textLength="230.8" lengthAdjust="spacingAndGlyphs">Professional installation</text>
<text class="b" x="428.7" y="906.8" textLength="181.0" lengthAdjust="spacingAndGlyphs">of the new system,</text>
<text class="b" x="399.1" y="932.2" textLength="239.3" lengthAdjust="spacingAndGlyphs">connections, and testing</text>
<text class="h" x="685.9" y="826.0" textLength="257.6" lengthAdjust="spacingAndGlyphs">POST-INSTALLATION</text>
<text class="h" x="683.7" y="854.3" textLength="261.1" lengthAdjust="spacingAndGlyphs">INSPECTION &amp; DEMO</text>
<text class="b" x="687.0" y="887.6" textLength="254.3" lengthAdjust="spacingAndGlyphs">final inspection for quality</text>
<text class="b" x="700.9" y="912.5" textLength="227.0" lengthAdjust="spacingAndGlyphs">control, explaining new</text>
<text class="b" x="728.0" y="937.7" textLength="173.1" lengthAdjust="spacingAndGlyphs">system operation.</text>
</g>
<!-- footer -->
<g id="footer">
<text x="636" y="1086" textLength="264.5" lengthAdjust="spacingAndGlyphs" style="font-family:'Liberation Sans',Arial,sans-serif;font-weight:700;font-size:24px;fill:#363636;">Prime Heating &amp; Cooling</text>
<text x="735.5" y="1107" textLength="165" lengthAdjust="spacingAndGlyphs" style="font-family:'Liberation Sans',Arial,sans-serif;font-weight:400;font-size:20px;fill:#7a7a7a;">getprimehvac.com</text>
<!-- logo -->
<g transform="translate(-1.2,0.2) translate(0,1094) skewX(-18) translate(0,-1094)">
<text y="1094" style="font-family:'Liberation Sans',Arial,sans-serif;font-weight:700;font-size:13.2px;fill:#4d4d4f;stroke:#4d4d4f;stroke-width:0.5;"><tspan x="926" textLength="30" lengthAdjust="spacingAndGlyphs">PR</tspan><tspan x="960" textLength="4" lengthAdjust="spacingAndGlyphs">I</tspan><tspan x="968.3" textLength="31" lengthAdjust="spacingAndGlyphs">ME</tspan></text>
<rect x="957.5" y="1084.3" width="9.4" height="5.1" fill="#d9232e"/>
<rect x="957.5" y="1089.4" width="9.4" height="5.1" fill="#1f5fb4"/>
<circle cx="962.2" cy="1089.4" r="2" fill="#ffffff"/>
<circle cx="962.2" cy="1089.4" r="0.9" fill="#1f5fb4"/>
</g>
<g transform="translate(-0.5,0.4) translate(0,1099.5) skewX(-15) translate(0,-1099.5)" style="font-family:'Liberation Sans',Arial,sans-serif;font-weight:700;font-size:4.8px;">
<text x="924.3" y="1099.5" textLength="27.5" lengthAdjust="spacingAndGlyphs" fill="#d9232e" stroke="#d9232e" stroke-width="0.25">HEATING</text>
<text x="953.3" y="1099.5" textLength="3" lengthAdjust="spacingAndGlyphs" fill="#6a6a6a">&amp;</text>
<text x="957.8" y="1099.5" textLength="26.2" lengthAdjust="spacingAndGlyphs" fill="#1f5fb4" stroke="#1f5fb4" stroke-width="0.25">COOLING</text>
<text x="986.3" y="1099.5" textLength="10.5" lengthAdjust="spacingAndGlyphs" fill="#6a6a6a" stroke="#6a6a6a" stroke-width="0.2">LLC</text>
</g>
</g>
</svg>
</body>
</html>
